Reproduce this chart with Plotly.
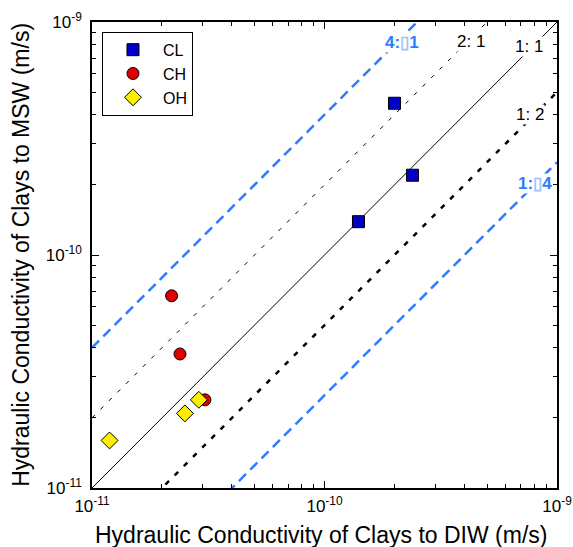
import plotly.graph_objects as go

# ---- data ----
cl_diw = [2.0e-10, 2.39e-10, 1.40e-10]
cl_msw = [4.48e-10, 2.20e-10, 1.39e-10]
ch_diw = [2.20e-11, 2.39e-11, 3.06e-11]
ch_msw = [6.68e-11, 3.76e-11, 2.39e-11]
oh_diw = [2.88e-11, 2.51e-11, 1.19e-11]
oh_msw = [2.39e-11, 2.09e-11, 1.60e-11]

ratio_values = [4, 2, 1, 0.5, 0.25]
ratio_x = [1e-11, 1e-9]

major_ticks = [1e-11, 1e-10, 1e-9]
major_text = ["10<sup>-11</sup>", "10<sup>-10</sup>", "10<sup>-9</sup>"]
minor_ticks = [k * 10.0 ** e for e in (-11, -10) for k in range(2, 10)]

x_title = "Hydraulic Conductivity of Clays to DIW (m/s)"
y_title = "Hydraulic Conductivity of Clays to MSW (m/s)"

FONT = "Liberation Sans, Arial"
BLUE_LINE = "#2f7bff"
ratio_styles = {
    4: dict(color=BLUE_LINE, width=2.5, dash="10px,6px"),
    2: dict(color="black", width=1, dash="4px,8px"),
    1: dict(color="black", width=1, dash="solid"),
    0.5: dict(color="black", width=2.5, dash="5px,8px"),
    0.25: dict(color=BLUE_LINE, width=2.5, dash="10px,6px"),
}

fig = go.Figure()

for r in ratio_values:
    fig.add_trace(go.Scatter(
        x=ratio_x, y=[r * v for v in ratio_x], mode="lines",
        line=ratio_styles[r], showlegend=False, hoverinfo="skip"))

fig.add_trace(go.Scatter(
    x=cl_diw, y=cl_msw, mode="markers", name="CL",
    marker=dict(symbol="square", size=12, color="#0000c8",
                line=dict(color="black", width=1))))
fig.add_trace(go.Scatter(
    x=ch_diw, y=ch_msw, mode="markers", name="CH",
    marker=dict(symbol="circle", size=12, color="#e00000",
                line=dict(color="black", width=1))))
fig.add_trace(go.Scatter(
    x=oh_diw, y=oh_msw, mode="markers", name="OH",
    marker=dict(symbol="diamond", size=13, color="#ffee00",
                line=dict(color="black", width=1))))

labels = [
    ("4:<span style='color:#9cc3ff'>▯</span>1", -9.667, -9.086, BLUE_LINE, True),
    ("2: 1", -9.370, -9.082, "black", False),
    ("1: 1", -9.120, -9.107, "black", False),
    ("1: 2", -9.116, -9.399, "black", False),
    ("1:<span style='color:#9cc3ff'>▯</span>4", -9.095, -9.695, BLUE_LINE, True),
]
for txt, lx, ly, col, bold in labels:
    fig.add_annotation(
        x=lx, y=ly, xref="x", yref="y", showarrow=False,
        text=f"<b>{txt}</b>" if bold else txt,
        font=dict(size=17, color=col, family=FONT),
        bgcolor="white", borderpad=0)

# axis titles
fig.add_annotation(x=0.493, y=-0.101, xref="paper", yref="paper",
                   xanchor="center", yanchor="middle", showarrow=False,
                   text=x_title, font=dict(size=23, color="black", family=FONT))
fig.add_annotation(x=-0.153, y=0.5, xref="paper", yref="paper",
                   xanchor="center", yanchor="middle", showarrow=False,
                   textangle=-90,
                   text=y_title, font=dict(size=23, color="black", family=FONT))

axis_common = dict(
    type="log", showgrid=False, zeroline=False, automargin=False,
    showline=True, linecolor="black", linewidth=1.5, mirror="ticks",
    ticks="inside", ticklen=7, tickwidth=1, tickcolor="black",
    tickmode="array", tickvals=major_ticks, ticktext=major_text,
    tickfont=dict(size=17, color="black", family=FONT),
    minor=dict(ticks="inside", ticklen=4, tickwidth=1, tickcolor="black",
               tickmode="array", tickvals=minor_ticks, showgrid=False),
)

fig.update_xaxes(**axis_common, range=[-11, -9], ticklabelstandoff=2)
fig.update_yaxes(**axis_common, range=[-11, -9], ticklabelstandoff=5)

fig.update_layout(
    width=573, height=547,
    margin=dict(l=92, r=16, t=22, b=59),
    paper_bgcolor="white", plot_bgcolor="white",
    font=dict(family=FONT, color="black"),
    legend=dict(x=0.0215, y=0.979, xanchor="left", yanchor="top",
                bgcolor="white", bordercolor="black", borderwidth=1,
                font=dict(size=16, color="black"),
                itemwidth=50, tracegroupgap=0),
)

fig.write_html("out.html", config={"displayModeBar": False},
               post_script="document.body.style.margin='0';")
